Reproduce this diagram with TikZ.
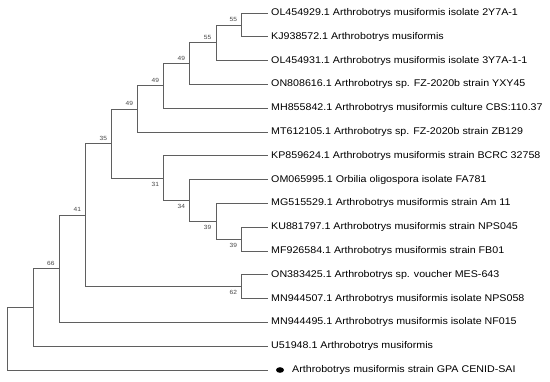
\documentclass[tikz,border=0pt]{standalone}
\usepackage{fontspec}
\setmainfont{Liberation Sans}[FakeStretch=1.1]
\usetikzlibrary{shapes.geometric}
\definecolor{branchc}{RGB}{95,95,95}
\definecolor{bootc}{RGB}{70,70,70}
\tikzset{
  branch/.style={draw=branchc, line width=0.8pt},
  leaf/.style={anchor=west, inner xsep=3pt, inner ysep=0pt, font=\fontsize{9.7}{11}\selectfont, text=black},
  boot/.style={inner sep=0pt, font=\fontsize{6}{7}\selectfont, text=bootc},
  bullet/.style={ellipse, fill=black, draw=none, minimum width=8pt, minimum height=5.6pt, inner sep=0pt}
}
\begin{document}
\begin{tikzpicture}[x=1pt,y=-1pt]
\useasboundingbox (0,0) rectangle (550,381);
% leaves
\node[leaf] (t1) at (268,13) {OL454929.1 Arthrobotrys musiformis isolate 2Y7A-1};
\node[leaf] (t2) at (268,36.8) {KJ938572.1 Arthrobotrys musiformis};
\node[leaf] (t3) at (268,60.6) {OL454931.1 Arthrobotrys musiformis isolate 3Y7A-1-1};
\node[leaf] (t4) at (268,84.4) {ON808616.1 Arthrobotrys sp. FZ-2020b strain YXY45};
\node[leaf] (t5) at (268,108.2) {MH855842.1 Arthrobotrys musiformis culture CBS:110.37};
\node[leaf] (t6) at (268,132) {MT612105.1 Arthrobotrys sp. FZ-2020b strain ZB129};
\node[leaf] (t7) at (268,155.8) {KP859624.1 Arthrobotrys musiformis strain BCRC 32758};
\node[leaf] (t8) at (268,179.6) {OM065995.1 Orbilia oligospora isolate FA781};
\node[leaf] (t9) at (268,203.4) {MG515529.1 Arthrobotrys musiformis strain Am 11};
\node[leaf] (t10) at (268,227.2) {KU881797.1 Arthrobotrys musiformis strain NPS045};
\node[leaf] (t11) at (268,251) {MF926584.1 Arthrobotrys musiformis strain FB01};
\node[leaf] (t12) at (268,274.8) {ON383425.1 Arthrobotrys sp. voucher MES-643};
\node[leaf] (t13) at (268,298.6) {MN944507.1 Arthrobotrys musiformis isolate NPS058};
\node[leaf] (t14) at (268,322.4) {MN944495.1 Arthrobotrys musiformis isolate NF015};
\node[leaf] (t15) at (268,346.2) {U51948.1 Arthrobotrys musiformis};
\coordinate (e16) at (268,370);
\node[bullet] (dot) at (280,370) {};
\node[leaf] (t16) at (289,370) {Arthrobotrys musiformis strain GPA CENID-SAI};
% internal nodes
\coordinate (n55a) at (241.7,24.9);
\coordinate (n55b) at (216,42.75);
\coordinate (n49a) at (189.7,63.58);
\coordinate (n49b) at (163.7,85.89);
\coordinate (n49c) at (137.7,108.94);
\coordinate (n39b) at (241.7,239.1);
\coordinate (n39a) at (216,221.25);
\coordinate (n34) at (189.7,200.43);
\coordinate (n31) at (163.7,178.11);
\coordinate (n35) at (111.7,143.53);
\coordinate (n62) at (241.7,286.7);
\coordinate (n41) at (85.7,215.11);
\coordinate (n66) at (59.3,268.76);
\coordinate (nx) at (33,307.48);
\coordinate (root) at (7.3,338.74);
% branches
\draw[branch] (n55a) |- (t1.west);
\draw[branch] (n55a) |- (t2.west);
\draw[branch] (n55b) |- (n55a);
\draw[branch] (n55b) |- (t3.west);
\draw[branch] (n49a) |- (n55b);
\draw[branch] (n49a) |- (t4.west);
\draw[branch] (n49b) |- (n49a);
\draw[branch] (n49b) |- (t5.west);
\draw[branch] (n49c) |- (n49b);
\draw[branch] (n49c) |- (t6.west);
\draw[branch] (n39b) |- (t10.west);
\draw[branch] (n39b) |- (t11.west);
\draw[branch] (n39a) |- (t9.west);
\draw[branch] (n39a) |- (n39b);
\draw[branch] (n34) |- (t8.west);
\draw[branch] (n34) |- (n39a);
\draw[branch] (n31) |- (t7.west);
\draw[branch] (n31) |- (n34);
\draw[branch] (n35) |- (n49c);
\draw[branch] (n35) |- (n31);
\draw[branch] (n62) |- (t12.west);
\draw[branch] (n62) |- (t13.west);
\draw[branch] (n41) |- (n35);
\draw[branch] (n41) |- (n62);
\draw[branch] (n66) |- (n41);
\draw[branch] (n66) |- (t14.west);
\draw[branch] (nx) |- (n66);
\draw[branch] (nx) |- (t15.west);
\draw[branch] (root) |- (nx);
\draw[branch] (root) |- (e16);
% bootstrap values
\node[boot] (b55a) at ([shift={(-8.4,-5.3)}]n55a) {55};
\node[boot] (b55b) at ([shift={(-8.4,-5.3)}]n55b) {55};
\node[boot] (b49a) at ([shift={(-8.4,-5.3)}]n49a) {49};
\node[boot] (b49b) at ([shift={(-8.4,-5.3)}]n49b) {49};
\node[boot] (b49c) at ([shift={(-8.4,-5.3)}]n49c) {49};
\node[boot] (b35) at ([shift={(-8.4,-5.3)}]n35) {35};
\node[boot] (b41) at ([shift={(-8.4,-5.3)}]n41) {41};
\node[boot] (b66) at ([shift={(-8.4,-5.3)}]n66) {66};
\node[boot] (b31) at ([shift={(-8.4,6.2)}]n31) {31};
\node[boot] (b34) at ([shift={(-8.4,6.2)}]n34) {34};
\node[boot] (b39a) at ([shift={(-8.4,6.2)}]n39a) {39};
\node[boot] (b39b) at ([shift={(-8.4,6.2)}]n39b) {39};
\node[boot] (b62) at ([shift={(-8.4,6.2)}]n62) {62};
\end{tikzpicture}
\end{document}
